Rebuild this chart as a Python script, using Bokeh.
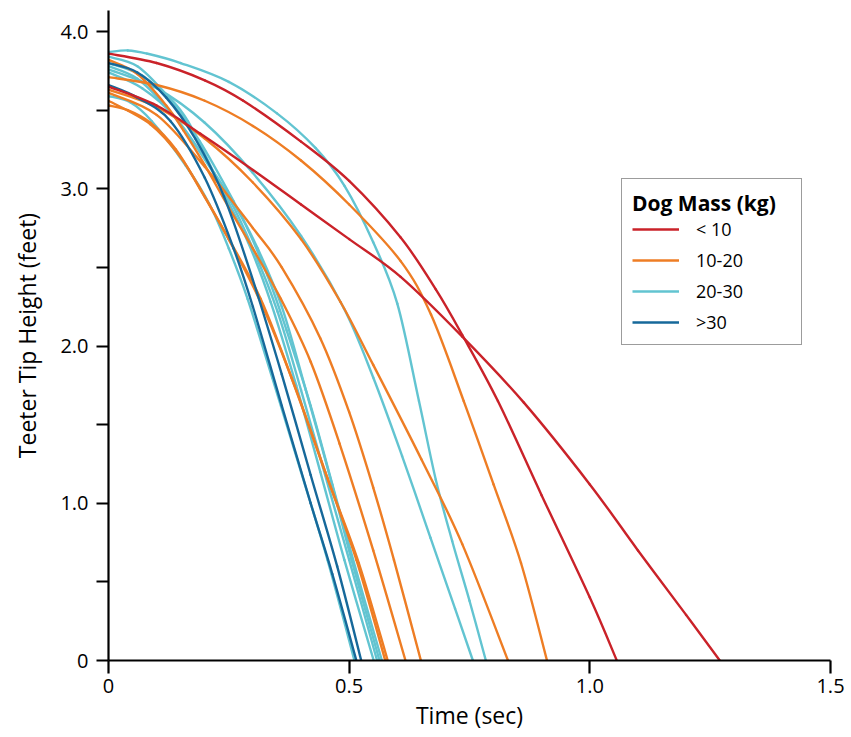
from bokeh.plotting import figure
from bokeh.models import Range1d, FixedTicker, Legend, LegendItem, CustomJSTickFormatter
from bokeh.embed import file_html
from bokeh.resources import INLINE

# ---- data: teeter tip height (feet) vs time (sec), one list pair per run ----
# < 10 kg
lt10_t = [
    [0, 0.1, 0.2, 0.28, 0.4, 0.5, 0.607, 0.68, 0.735, 0.809, 0.9, 1.0, 1.056],
    [0, 0.1, 0.191, 0.3, 0.4, 0.5, 0.607, 0.735, 0.863, 1.0, 1.1, 1.2, 1.27],
]
lt10_h = [
    [3.86, 3.80, 3.69, 3.56, 3.30, 3.05, 2.69, 2.36, 2.07, 1.65, 1.05, 0.40, 0],
    [3.65, 3.53, 3.35, 3.12, 2.90, 2.68, 2.44, 2.06, 1.64, 1.12, 0.70, 0.29, 0],
]
# 10-20 kg
m10_20_t = [
    [0, 0.04, 0.087, 0.14, 0.19, 0.25, 0.316, 0.38, 0.45, 0.515, 0.575],
    [0, 0.087, 0.15, 0.20, 0.26, 0.325, 0.39, 0.455, 0.52, 0.58],
    [0, 0.06, 0.12, 0.156, 0.2, 0.25, 0.3, 0.358, 0.42, 0.48, 0.55, 0.617],
    [0, 0.1, 0.2, 0.3, 0.36, 0.44, 0.5, 0.55, 0.593, 0.649],
    [0, 0.1, 0.2, 0.3, 0.4, 0.482, 0.55, 0.65, 0.735, 0.83],
    [0, 0.1, 0.2, 0.3, 0.4, 0.5, 0.607, 0.67, 0.738, 0.8, 0.857, 0.911],
]
m10_20_h = [
    [3.53, 3.50, 3.42, 3.25, 3.0, 2.68, 2.3, 1.8, 1.2, 0.64, 0],
    [3.56, 3.41, 3.20, 2.95, 2.62, 2.22, 1.72, 1.16, 0.62, 0],
    [3.82, 3.73, 3.53, 3.37, 3.15, 2.88, 2.62, 2.3, 1.9, 1.38, 0.70, 0],
    [3.61, 3.47, 3.14, 2.75, 2.50, 2.05, 1.58, 1.10, 0.64, 0],
    [3.63, 3.52, 3.32, 3.04, 2.68, 2.28, 1.88, 1.28, 0.74, 0],
    [3.71, 3.66, 3.56, 3.40, 3.18, 2.90, 2.54, 2.20, 1.65, 1.12, 0.62, 0],
]
# 20-30 kg
m20_30_t = [
    [0, 0.04, 0.08, 0.15, 0.25, 0.35, 0.43, 0.49, 0.55, 0.6, 0.645, 0.68, 0.714, 0.75, 0.784],
    [0, 0.1, 0.2, 0.3, 0.4, 0.489, 0.55, 0.61, 0.669, 0.72, 0.757],
    [0, 0.045, 0.09, 0.16, 0.21, 0.25, 0.289, 0.34, 0.40, 0.455, 0.511],
    [0, 0.06, 0.12, 0.165, 0.235, 0.29, 0.337, 0.39, 0.44, 0.49, 0.551],
    [0, 0.06, 0.12, 0.175, 0.25, 0.30, 0.351, 0.40, 0.45, 0.50, 0.558],
    [0, 0.07, 0.13, 0.19, 0.26, 0.31, 0.36, 0.41, 0.46, 0.505, 0.563],
    [0, 0.07, 0.14, 0.22, 0.28, 0.33, 0.37, 0.42, 0.465, 0.512, 0.568],
]
m20_30_h = [
    [3.87, 3.88, 3.86, 3.80, 3.68, 3.48, 3.26, 3.02, 2.66, 2.27, 1.65, 1.15, 0.76, 0.38, 0],
    [3.76, 3.64, 3.42, 3.10, 2.70, 2.24, 1.80, 1.30, 0.78, 0.33, 0],
    [3.59, 3.55, 3.43, 3.15, 2.90, 2.62, 2.3, 1.80, 1.20, 0.64, 0],
    [3.84, 3.78, 3.60, 3.43, 3.0, 2.66, 2.28, 1.75, 1.20, 0.64, 0],
    [3.78, 3.70, 3.52, 3.30, 2.94, 2.62, 2.22, 1.72, 1.18, 0.64, 0],
    [3.80, 3.72, 3.55, 3.30, 2.92, 2.62, 2.25, 1.72, 1.17, 0.64, 0],
    [3.74, 3.64, 3.45, 3.10, 2.80, 2.45, 2.10, 1.62, 1.12, 0.60, 0],
]
# > 30 kg
gt30_t = [
    [0, 0.06, 0.12, 0.18, 0.24, 0.30, 0.36, 0.42, 0.475, 0.525],
    [0, 0.06, 0.129, 0.20, 0.26, 0.30, 0.36, 0.42, 0.465, 0.515],
]
gt30_h = [
    [3.80, 3.74, 3.58, 3.32, 2.95, 2.42, 1.82, 1.18, 0.60, 0],
    [3.66, 3.58, 3.43, 3.07, 2.62, 2.25, 1.62, 1.00, 0.55, 0],
]

group_labels = ["< 10", "10-20", "20-30", ">30"]
group_colors = ["#CA2229", "#EE7D24", "#62C4D1", "#16689A"]

x_ticks = [0, 0.5, 1.0, 1.5]
y_ticks = [0, 1, 2, 3, 4]
y_minor = [0.5, 1.5, 2.5, 3.5]

FONT = "Open Sans"


def smooth_segments(t, h):
    """Cubic Bezier segments passing through every read point (Catmull-Rom tangents)."""
    n = len(t)
    seg = {k: [] for k in ("x0", "y0", "x1", "y1", "cx0", "cy0", "cx1", "cy1")}
    for i in range(n - 1):
        a = max(i - 1, 0)
        b = min(i + 2, n - 1)
        seg["x0"].append(t[i]); seg["y0"].append(h[i])
        seg["x1"].append(t[i + 1]); seg["y1"].append(h[i + 1])
        seg["cx0"].append(t[i] + (t[i + 1] - t[a]) / 6.0)
        seg["cy0"].append(h[i] + (h[i + 1] - h[a]) / 6.0)
        seg["cx1"].append(t[i + 1] - (t[b] - t[i]) / 6.0)
        seg["cy1"].append(h[i + 1] - (h[b] - h[i]) / 6.0)
    return seg


p = figure(width=851, height=737,
           x_range=Range1d(0, 1.5), y_range=Range1d(0, 4.134),
           output_backend="svg", toolbar_location=None,
           min_border_left=108, min_border_right=21,
           min_border_top=10, min_border_bottom=77)
p.outline_line_color = None
p.xgrid.visible = False
p.ygrid.visible = False
p.background_fill_color = "white"
p.border_fill_color = "white"

groups = [(lt10_t, lt10_h), (m10_20_t, m10_20_h), (m20_30_t, m20_30_h), (gt30_t, gt30_h)]
draw_order = [2, 1, 3, 0]
legend_renderers = {}
for gi in draw_order:
    ts, hs = groups[gi]
    for t, h in zip(ts, hs):
        p.bezier(line_color=group_colors[gi], line_width=2.4, line_cap="round",
                 **smooth_segments(t, h))
    # legend swatch: a one-point line (draws nothing on the plot) in the group style
    legend_renderers[gi] = p.line([ts[0][0]], [hs[0][0]], line_color=group_colors[gi],
                                  line_width=2.4)

fmt = CustomJSTickFormatter(code="return tick == 0 ? '0' : tick.toFixed(1);")

for ax in (p.xaxis[0], p.yaxis[0]):
    ax.axis_line_color = "black"
    ax.axis_line_width = 2.2
    ax.major_tick_line_color = "black"
    ax.major_tick_line_width = 2.2
    ax.major_tick_in = 0
    ax.major_label_text_font = FONT
    ax.major_label_text_font_size = "20px"
    ax.major_label_text_color = "black"
    ax.axis_label_text_font = FONT
    ax.axis_label_text_font_size = "23px"
    ax.axis_label_text_font_style = "normal"
    ax.axis_label_text_color = "black"
    ax.formatter = fmt

p.xaxis.ticker = FixedTicker(ticks=x_ticks)
p.xaxis.major_tick_out = 13
p.xaxis.minor_tick_line_color = None
p.xaxis.major_label_standoff = 5
p.xaxis.axis_label = "Time (sec)"
p.xaxis.axis_label_standoff = 3

p.yaxis.ticker = FixedTicker(ticks=y_ticks, minor_ticks=y_minor)
p.yaxis.major_tick_out = 12
p.yaxis.minor_tick_out = 12
p.yaxis.minor_tick_in = 0
p.yaxis.minor_tick_line_color = "black"
p.yaxis.minor_tick_line_width = 2.2
p.yaxis.major_label_standoff = 8
p.yaxis.axis_label = "Teeter Tip Height (feet)"
p.yaxis.axis_label_standoff = 14

legend = Legend(
    items=[LegendItem(label=group_labels[i], renderers=[legend_renderers[i]]) for i in range(4)],
    location=(513, 315), title="Dog Mass (kg)")
legend.border_line_color = "#3a3a3a"
legend.border_line_width = 1.5
legend.background_fill_color = "white"
legend.background_fill_alpha = 1.0
legend.title_text_font = FONT
legend.title_text_font_size = "21px"
legend.title_text_font_style = "bold"
legend.title_text_color = "black"
legend.title_standoff = 0
legend.label_text_font = FONT
legend.label_text_font_size = "18px"
legend.label_text_color = "black"
legend.glyph_width = 47
legend.glyph_height = 22
legend.label_height = 22
legend.label_width = 95
legend.label_standoff = 17
legend.spacing = 7
legend.padding = 10
legend.margin = 0
p.add_layout(legend)

open("out.html", "w").write(file_html(p, INLINE))
